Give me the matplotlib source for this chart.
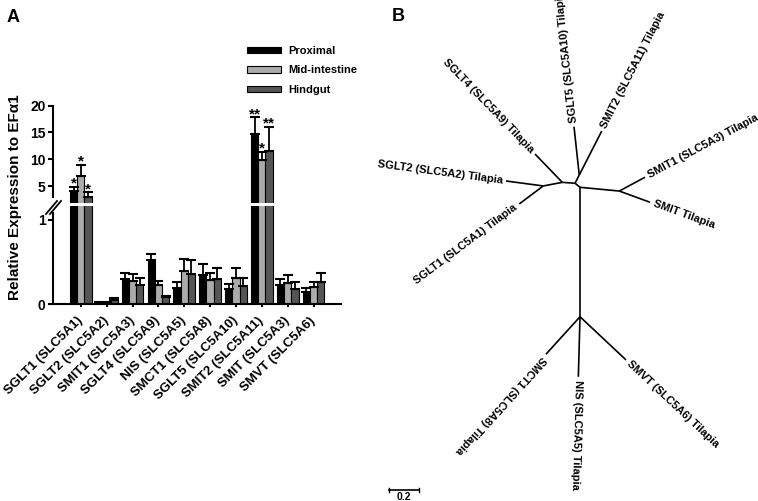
import numpy as np
import matplotlib
matplotlib.use('Agg')
import matplotlib.pyplot as plt
from matplotlib.lines import Line2D

plt.rcParams['font.family'] = ['Liberation Sans', 'DejaVu Sans']
plt.rcParams['font.weight'] = 'bold'

# ---- panel A data ----
genes = ['SGLT1 (SLC5A1)', 'SGLT2 (SLC5A2)', 'SMIT1 (SLC5A3)', 'SGLT4 (SLC5A9)',
         'NIS (SLC5A5)', 'SMCT1 (SLC5A8)', 'SGLT5 (SLC5A10)', 'SMIT2 (SLC5A11)',
         'SMIT (SLC5A3)', 'SMVT (SLC5A6)']
proximal = [4.07, 0.02, 0.30, 0.53, 0.19, 0.35, 0.18, 14.8, 0.23, 0.14]
proximal_err = [0.83, 0.01, 0.075, 0.07, 0.07, 0.13, 0.06, 3.0, 0.07, 0.05]
mid = [6.87, 0.02, 0.28, 0.225, 0.395, 0.29, 0.31, 9.9, 0.25, 0.20]
mid_err = [2.13, 0.005, 0.08, 0.05, 0.145, 0.08, 0.12, 1.5, 0.10, 0.06]
hind = [3.0, 0.05, 0.225, 0.09, 0.36, 0.30, 0.22, 11.5, 0.18, 0.26]
hind_err = [0.8, 0.025, 0.085, 0.01, 0.16, 0.13, 0.09, 4.6, 0.09, 0.115]
stars_prox = ['*', '', '', '', '', '', '', '**', '', '']
stars_mid = ['*', '', '', '', '', '', '', '*', '', '']
stars_hind = ['*', '', '', '', '', '', '', '**', '', '']

series = [('Proximal', proximal, proximal_err, stars_prox, 'black'),
          ('Mid-intestine', mid, mid_err, stars_mid, '#ababab'),
          ('Hindgut', hind, hind_err, stars_hind, '#555555')]

# ---- panel B data (tree, branch-length units) ----
node_id = ['N2', 'N1', 'Nc', 'N3', 'N4', 'N5', 'N6',
           'SGLT2', 'SGLT1', 'SGLT4', 'SGLT5', 'SMIT2', 'SMIT1', 'SMIT',
           'SMCT1', 'NIS', 'SMVT']
node_x = [-0.245, -0.118, -0.033, -0.005, 0.0, 0.262, 0.0,
          -0.493, -0.405, -0.300, -0.040, 0.145, 0.433, 0.467,
          -0.227, -0.011, 0.307]
node_y = [0.009, 0.033, 0.027, 0.082, 0.0, -0.025, -0.863,
          0.042, -0.111, 0.222, 0.404, 0.375, 0.067, -0.100,
          -1.113, -1.263, -1.151]
edges = [('N2', 'SGLT2'), ('N2', 'SGLT1'), ('N2', 'N1'), ('N1', 'SGLT4'),
         ('N1', 'Nc'), ('Nc', 'N3'), ('N3', 'SGLT5'), ('N3', 'SMIT2'),
         ('Nc', 'N4'), ('N4', 'N5'), ('N5', 'SMIT1'), ('N5', 'SMIT'),
         ('N4', 'N6'), ('N6', 'SMCT1'), ('N6', 'NIS'), ('N6', 'SMVT')]
leaf_labels = {'SGLT2': 'SGLT2 (SLC5A2) Tilapia', 'SGLT1': 'SGLT1 (SLC5A1) Tilapia',
               'SGLT4': 'SGLT4 (SLC5A9) Tilapia', 'SGLT5': 'SGLT5 (SLC5A10) Tilapia',
               'SMIT2': 'SMIT2 (SLC5A11) Tilapia', 'SMIT1': 'SMIT1 (SLC5A3) Tilapia',
               'SMIT': 'SMIT Tilapia', 'SMCT1': 'SMCT1 (SLC5A8) Tilapia',
               'NIS': 'NIS (SLC5A5) Tilapia', 'SMVT': 'SMVT (SLC5A6) Tilapia'}
scale_len = 0.2

W, H = 758, 501
fig = plt.figure(figsize=(W / 100, H / 100), dpi=100)

def frac(x0, y0, x1, y1):
    return [x0 / W, 1 - y1 / H, (x1 - x0) / W, (y1 - y0) / H]

ax_hi = fig.add_axes(frac(53.3, 105.7, 341, 203))
ax_lo = fig.add_axes(frac(53.3, 206, 341, 304.3))

x = np.arange(len(genes))
bw = 0.28
for i, (name, vals, errs, stars, col) in enumerate(series):
    xs = x + (i - 1) * bw
    for ax in (ax_hi, ax_lo):
        ax.bar(xs, vals, bw, color=col, edgecolor='black', linewidth=0.8, label=name)
        ax.errorbar(xs, vals, yerr=[np.zeros(len(vals)), errs], fmt='none',
                    ecolor='black', elinewidth=1.3, capsize=3.3, capthick=1.5)
    for xi, v, e, s in zip(xs, vals, errs, stars):
        if s:
            ax_hi.annotate(s, (xi, v + e), xytext=(0, -3), textcoords='offset points',
                           ha='center', va='bottom', fontsize=11, fontweight='bold')

for ax in (ax_hi, ax_lo):
    ax.set_xlim(-1.062, 10.06)
    ax.spines['top'].set_visible(False)
    ax.spines['right'].set_visible(False)
    ax.spines['left'].set_linewidth(1.5)
    ax.spines['bottom'].set_linewidth(1.5)
    ax.tick_params(width=1.5, length=3.5, labelsize=10, pad=2)

ax_hi.set_ylim(1.83, 20)
ax_hi.set_yticks([5, 10, 15, 20])
ax_hi.spines['bottom'].set_visible(False)
ax_hi.spines['left'].set_bounds(2.95, 20)
ax_hi.set_xticks([])

ax_lo.set_ylim(0, 1.166)
ax_lo.set_yticks([0, 1])
ax_lo.spines['left'].set_bounds(0, 1.08)
ax_lo.set_xticks(x)
ax_lo.set_xticklabels(genes, rotation=45, ha='right', va='center',
                      rotation_mode='anchor', fontsize=9.5, fontweight='bold')
ax_lo.tick_params(axis='x', length=2.5, pad=8)
for lab in ax_hi.get_yticklabels() + ax_lo.get_yticklabels():
    lab.set_fontweight('bold')

# break marks
for dx in (0, 4):
    fig.add_artist(Line2D([(46 + dx) / W, (57 + dx) / W], [1 - 214 / H, 1 - 201 / H],
                          color='black', lw=1.3))

fig.text(15 / W, 1 - 197 / H, 'Relative Expression to EF\u03b11', rotation=90,
         ha='center', va='center', fontsize=11, fontweight='bold')

h, l = ax_lo.get_legend_handles_labels()
fig.legend(h[:3], l[:3], loc='upper left', bbox_to_anchor=(247 / W, 1 - 46 / H),
           frameon=False, fontsize=8, handlelength=3.1, handleheight=0.5,
           labelspacing=0.85, handletextpad=0.6, borderpad=0, borderaxespad=0)

fig.text(7 / W, 1 - 22 / H, 'A', fontsize=13, fontweight='bold')
fig.text(392 / W, 1 - 21 / H, 'B', fontsize=13, fontweight='bold')

# ---- panel B tree ----
ax_t = fig.add_axes(frac(380, 0, 758, 501))
ax_t.set_xlim((380 - 580) / 150, (758 - 580) / 150)
ax_t.set_ylim((187.3 - 501) / 150, 187.3 / 150)
ax_t.axis('off')
pos = {n: (px, py) for n, px, py in zip(node_id, node_x, node_y)}
for a, b in edges:
    ax_t.plot([pos[a][0], pos[b][0]], [pos[a][1], pos[b][1]], color='black', lw=1.2,
              solid_capstyle='butt')
    if b in leaf_labels:
        ang = np.degrees(np.arctan2(pos[b][1] - pos[a][1], pos[b][0] - pos[a][0])) % 360
        flip = 100 < ang < 220
        rot = ang - 180 if flip else ang
        ux, uy = np.cos(np.radians(ang)), np.sin(np.radians(ang))
        gap = 0.025
        ax_t.text(pos[b][0] + ux * gap, pos[b][1] + uy * gap, leaf_labels[b],
                  rotation=rot, rotation_mode='anchor', ha='right' if flip else 'left',
                  va='center', fontsize=8, fontweight='bold')

sx0, sy = (389 - 580) / 150, (187.3 - 490) / 150
ax_t.plot([sx0, sx0 + scale_len], [sy, sy], color='black', lw=1.2)
for sx in (sx0, sx0 + scale_len):
    ax_t.plot([sx, sx], [sy - 0.012, sy + 0.012], color='black', lw=1.0)
ax_t.text(sx0 + scale_len / 2, sy - 0.015, '0.2', ha='center', va='top',
          fontsize=7.5, fontweight='bold')

fig.savefig('out.png', dpi=100)
